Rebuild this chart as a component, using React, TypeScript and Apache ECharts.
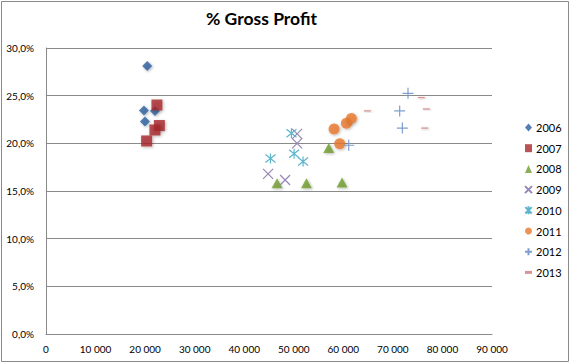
import React, { useEffect, useRef } from "react";
import * as echarts from "echarts";

const years = ["2006", "2007", "2008", "2009", "2010", "2011", "2012", "2013"];

const s2006 = [[20420, 0.281], [19760, 0.2345], [19960, 0.223], [21980, 0.234]];
const s2007 = [[22380, 0.2402], [22880, 0.2187], [21980, 0.214], [20300, 0.2025]];
const s2008 = [[46630, 0.158], [52560, 0.158], [59740, 0.159], [57060, 0.195]];
const s2009 = [[44820, 0.168], [48250, 0.1615], [50670, 0.21], [50670, 0.2]];
const s2010 = [[45300, 0.184], [50060, 0.189], [51880, 0.181], [49530, 0.2105]];
const s2011 = [[58130, 0.215], [60620, 0.221], [61630, 0.226], [59270, 0.1995]];
const s2012 = [[73050, 0.2525], [71370, 0.234], [71910, 0.216], [61090, 0.198]];
const s2013 = [[64850, 0.234], [75740, 0.248], [76750, 0.236], [76410, 0.216]];

const seriesData = [s2006, s2007, s2008, s2009, s2010, s2011, s2012, s2013];

const xTicks = { min: 0, max: 90000, interval: 10000 };
const yTicks = { min: 0, max: 0.3, interval: 0.05 };

const colors = ["#2C5F9E", "#A8282A", "#6E9A2C", "#9787B5", "#5DB5CC", "#E8782A", "#7E9ED0", "#CF7B7B"];

const symbols = [
  "diamond",
  "rect",
  "triangle",
  "path://M0,0L10,10M0,10L10,0",
  "path://M5,0L5,10M1,1L9,9M1,9L9,1",
  "circle",
  "path://M5,0L5,10M0,5L10,5",
  "path://M0,0L7,0L7,3L0,3Z",
];
const sizes: any[] = [10, 11, [11, 10], 10, 10, 11, 11, [7, 3]];
const lineOnly = [false, false, false, true, true, false, true, false];

export default function App() {
  const ref = useRef<HTMLDivElement>(null);
  useEffect(() => {
    if (!ref.current) return;
    const chart = echarts.init(ref.current, undefined, { renderer: "svg" });
    const font = "Lato, 'Liberation Sans', sans-serif";
    const series = years.map((y, i) => ({
      name: y,
      type: "scatter",
      data: seriesData[i],
      symbol: symbols[i],
      symbolSize: sizes[i],
      symbolKeepAspect: i === 7,
      itemStyle: lineOnly[i]
        ? { color: colors[i], borderColor: colors[i], borderWidth: 1.2, opacity: 1 }
        : {
            color: colors[i],
            shadowBlur: 3,
            shadowColor: "rgba(0,0,0,0.35)",
            shadowOffsetX: 1,
            shadowOffsetY: 1,
          },
    }));
    chart.setOption({
      animation: false,
      backgroundColor: "#ffffff",
      title: {
        text: "% Gross Profit",
        left: 206,
        top: 9,
        padding: 0,
        textStyle: { fontFamily: font, fontSize: 17.5, fontWeight: "bold", color: "#000" },
      },
      graphic: [
        {
          type: "rect",
          shape: { x: 1.5, y: 1.5, width: 567, height: 360 },
          style: { fill: "none", stroke: "#8a8a8a", lineWidth: 1 },
          silent: true,
        },
      ],
      legend: {
        orient: "vertical",
        left: 524,
        top: 122,
        itemWidth: 7,
        itemHeight: 8,
        itemGap: 9.7,
        padding: 0,
        data: years,
        textStyle: { fontFamily: font, fontSize: 11, color: "#000", padding: [0, 0, 0, -1] },
      },
      grid: { left: 46, top: 48, right: 79, bottom: 30, containLabel: false },
      xAxis: {
        type: "value",
        min: xTicks.min,
        max: xTicks.max,
        interval: xTicks.interval,
        axisLine: { show: true, lineStyle: { color: "#8a8a8a", width: 1 } },
        axisTick: { show: false },
        splitLine: { show: false },
        axisLabel: {
          margin: 10,
          fontFamily: font,
          fontSize: 10,
          color: "#000",
          formatter: (v: number) => {
            const s = String(Math.round(v));
            return s.replace(/\B(?=(\d{3})+(?!\d))/g, "\u00a0");
          },
        },
      },
      yAxis: {
        type: "value",
        min: yTicks.min,
        max: yTicks.max,
        interval: yTicks.interval,
        axisLine: { show: true, lineStyle: { color: "#8a8a8a", width: 1 } },
        axisTick: { show: false },
        splitLine: { show: true, lineStyle: { color: "#8a8a8a", width: 1 } },
        axisLabel: {
          margin: 12,
          fontFamily: font,
          fontSize: 10,
          color: "#000",
          formatter: (v: number) => (v * 100).toFixed(1).replace(".", ",") + "%",
        },
      },
      series,
    });
    return () => chart.dispose();
  }, []);
  return (
    <div
      ref={ref}
      style={{ position: "absolute", left: 0, top: 0, width: 571, height: 364 }}
    />
  );
}
